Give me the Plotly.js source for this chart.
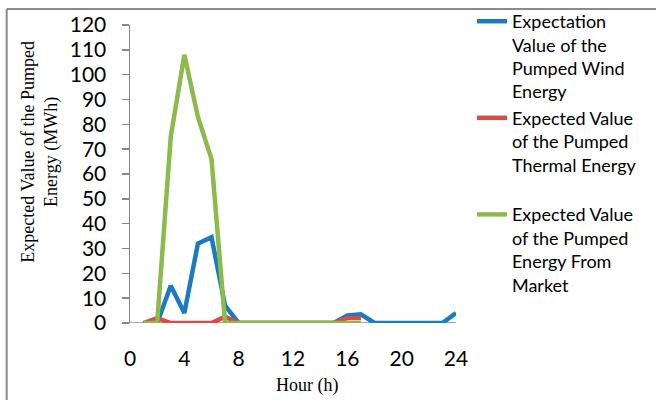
<!DOCTYPE html>
<html>
<head>
<meta charset="utf-8">
<script src="https://cdn.plot.ly/plotly-3.0.1.min.js"></script>
<style>
html,body{margin:0;padding:0;background:#fff;}
#chart{width:656px;height:400px;}
</style>
</head>
<body>
<div id="chart"></div>
<script>
const hours = [1,2,3,4,5,6,7,8,9,10,11,12,13,14,15,16,17,18,19,20,21,22,23,24];
const hoursShort = [1,2,3,4,5,6,7,8,9,10,11,12,13,14,15,16,17];
const windEnergy = [0,0,15,4,32,34.5,7,0,0,0,0,0,0,0,0,3,3.5,0,0,0,0,0,0,4];
const thermalEnergy = [0,2,0,0,0,0,2.5,0,0,0,0,0,0,0,0,2,2];
const marketEnergy = [0,0,75,108,83,66,0,0,0,0,0,0,0,0,0,0,0];
const seriesNames = [
  'Expectation<br>Value of the<br>Pumped Wind<br>Energy',
  'Expected Value<br>of the Pumped<br>Thermal Energy<br> ',
  'Expected Value<br>of the Pumped<br>Energy From<br>Market'
];
const xTicks = [0,4,8,12,16,20,24];
const yTicks = [0,10,20,30,40,50,60,70,80,90,100,110,120];

const colors = ['#1a7bc0','#db4a45','#8cbb4b'];

const traces = [
  {x: hours, y: windEnergy, name: seriesNames[0]},
  {x: hoursShort, y: thermalEnergy, name: seriesNames[1]},
  {x: hoursShort, y: marketEnergy, name: seriesNames[2]}
].map((t,i)=>Object.assign(t,{
  type:'scatter', mode:'lines',
  line:{color:colors[i], width:4.5, shape:'linear'},
  cliponaxis:false
}));

const W = 656, H = 400;
const L = 129.5, R = 456, T = 25, B = 323;
const px = v => (v - L) / (R - L);
const py = v => (B - v) / (B - T);

const layout = {
  width: W, height: H,
  margin: {l: L, r: W - R, t: T, b: H - B, pad: 0, autoexpand: false},
  paper_bgcolor: '#fff', plot_bgcolor: '#fff',
  font: {family: 'Lato, "Open Sans", sans-serif', color: '#000', size: 19},
  showlegend: true,
  legend: {
    x: px(472), y: py(3), xanchor: 'left', yanchor: 'top',
    font: {family: 'Lato, sans-serif', size: 18, color: '#000'},
    itemwidth: 30, valign: 'top', tracegroupgap: 0, maxheight: 420,
    bgcolor: 'rgba(0,0,0,0)'
  },
  xaxis: {
    range: [0, 24], tickvals: xTicks, ticktext: xTicks.map(String),
    showgrid: false, zeroline: false, showline: false,
    ticks: '', ticklabelstandoff: 21,
    tickfont: {family: 'Lato, sans-serif', size: 21},
    fixedrange: true
  },
  yaxis: {
    range: [0, 120], tickvals: yTicks, ticktext: yTicks.map(String),
    showgrid: false, zeroline: false,
    showline: true, linecolor: '#878787', linewidth: 1.5,
    ticks: 'outside', ticklen: 7, tickcolor: '#878787', tickwidth: 1.5,
    ticklabelstandoff: 11,
    tickfont: {family: 'Lato, sans-serif', size: 21},
    fixedrange: true
  },
  shapes: [
    {type:'line', xref:'paper', yref:'y', x0:px(122), x1:1, y0:0, y1:0,
     line:{color:'#878787', width:1.5}, layer:'below'},
    {type:'line', xref:'paper', yref:'paper', x0:px(6), x1:px(660), y0:py(9), y1:py(9),
     line:{color:'#8a8a8a', width:2}, layer:'below'},
    {type:'line', xref:'paper', yref:'paper', x0:px(6), x1:px(6), y0:py(9), y1:py(404),
     line:{color:'#8a8a8a', width:2}, layer:'below'}
  ],
  annotations: [
    {text: 'Expected Value of the Pumped<br>Energy (MWh)', textangle: -90,
     xref:'paper', yref:'paper', x: px(39), y: py(152), xanchor:'center', yanchor:'middle',
     showarrow:false, font:{family:'"Liberation Serif", "Times New Roman", serif', size:18, color:'#000'}},
    {text: 'Hour (h)', xref:'paper', yref:'paper', x: px(307), y: py(385),
     xanchor:'center', yanchor:'middle', showarrow:false,
     font:{family:'"Liberation Serif", "Times New Roman", serif', size:18, color:'#000'}}
  ]
};

Plotly.newPlot('chart', traces, layout, {displayModeBar:false, staticPlot:true});
</script>
</body>
</html>
